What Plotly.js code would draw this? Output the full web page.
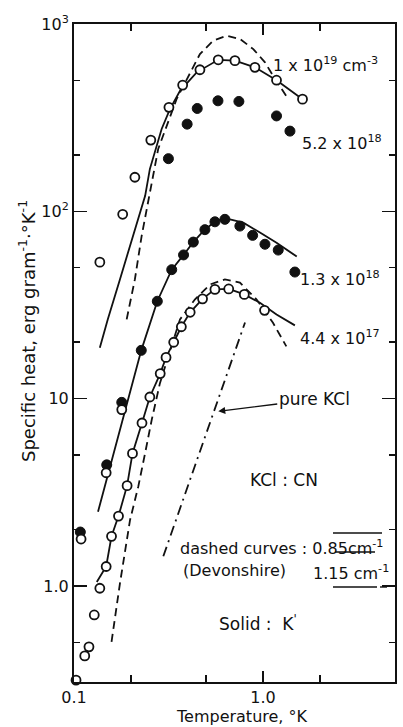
<!DOCTYPE html>
<html>
<head>
<meta charset="utf-8">
<script src="https://cdn.plot.ly/plotly-3.0.1.min.js"></script>
<style>html,body{margin:0;padding:0;background:#fff;}#chart{width:403px;height:727px;}</style>
</head>
<body>
<div id="chart"></div>
<script>
// ---- Data (temperature in K, specific heat in erg g^-1 K^-1) ----
// 1 x 10^19 cm^-3 : open circles, solid (K') fit and dashed (Devonshire) curve
const tA_pts = [0.0976, 0.137, 0.181, 0.210, 0.255, 0.318, 0.376, 0.464, 0.580, 0.711, 0.907, 1.18, 1.62];
const cA_pts = [26.8, 53.5, 96.4, 152, 240, 359, 472, 570, 644, 637, 587, 501, 397];
const tA_solid = [0.137, 0.151, 0.175, 0.206, 0.238, 0.252, 0.291, 0.322, 0.364, 0.446, 0.580, 0.711, 0.907, 1.18, 1.62];
const cA_solid = [18.7, 26.5, 43.3, 73.8, 121, 168, 275, 351, 440, 552, 644, 637, 587, 501, 397];
const tA_dash = [0.190, 0.210, 0.228, 0.252, 0.279, 0.349, 0.411, 0.464, 0.545, 0.643, 0.755, 0.889, 1.025, 1.16, 1.34];
const cA_dash = [26.5, 43.3, 73.8, 126, 215, 397, 552, 691, 815, 865, 832, 735, 624, 508, 407];

// 5.2 x 10^18 : filled circles
const tB_pts = [0.316, 0.397, 0.449, 0.578, 0.746, 1.18, 1.39];
const cB_pts = [191, 292, 354, 389, 386, 323, 268];

// 1.3 x 10^18 : filled circles (+ a second run, open) and solid curve
const tC_pts = [0.108, 0.149, 0.179, 0.227, 0.276, 0.329, 0.380, 0.428, 0.493, 0.557, 0.629, 0.755, 0.882, 1.025, 1.205, 1.476];
const cC_pts = [1.94, 4.43, 9.55, 18.1, 33.1, 48.8, 58.5, 68.5, 79.8, 87.9, 90.6, 83.4, 74.4, 66.7, 62.1, 47.4];
const tC_open = [0.109, 0.148, 0.179];
const cC_open = [1.78, 4.02, 8.74];
const tC_solid = [0.134, 0.206, 0.227, 0.276, 0.329, 0.380, 0.428, 0.493, 0.557, 0.629, 0.787, 0.964, 1.18, 1.51];
const cC_solid = [2.49, 12.6, 18.1, 33.1, 48.8, 58.5, 68.5, 80, 88, 92, 87, 77, 68, 57.3];

// 4.4 x 10^17 : open circles, solid and dashed curves
const tD_pts = [0.1025, 0.114, 0.120, 0.128, 0.137, 0.148, 0.158, 0.172, 0.191, 0.204, 0.229, 0.252, 0.286, 0.307, 0.337, 0.370, 0.412, 0.479, 0.557, 0.659, 0.797, 1.02];
const cD_pts = [0.314, 0.423, 0.473, 0.700, 0.972, 1.27, 1.84, 2.36, 3.43, 5.10, 7.41, 10.2, 13.6, 16.6, 20.0, 24.2, 28.9, 34.1, 38.3, 38.5, 36.0, 29.6];
const tD_solid = [0.132, 0.148, 0.158, 0.172, 0.191, 0.204, 0.229, 0.252, 0.286, 0.307, 0.337, 0.370, 0.412, 0.479, 0.557, 0.659, 0.797, 0.964, 1.18, 1.476];
const cD_solid = [1.05, 1.27, 1.84, 2.36, 3.43, 5.10, 7.41, 10.2, 13.6, 16.6, 20.0, 24.2, 28.9, 34.1, 38.3, 38.5, 36.0, 32.5, 28.1, 24.6];
const tD_dash = [0.158, 0.175, 0.198, 0.219, 0.238, 0.258, 0.285, 0.364, 0.436, 0.525, 0.629, 0.755, 0.926, 1.13, 1.33];
const cD_dash = [0.503, 1.03, 2.25, 3.40, 5.13, 7.73, 12.1, 26.5, 33.8, 40.7, 43.3, 41.6, 33.8, 25.4, 19.0];

// pure KCl (dash-dot)
const tPure = [0.297, 0.804];
const cPure = [1.44, 25.5];

// Axis ticks
const xTickVals = [0.1, 1, 5];
const xTickText = ["0.1", "1.0", "5.0"];
const xMinorVals = [0.2, 0.5, 2];
const yTickVals = [1, 10, 100, 1000];
const yTickText = ["1.0", "10", "10<sup>2</sup>", "10<sup>3</sup>"];
const yMinorVals = [0.5, 2, 5, 20, 50, 200, 500];

// ---- Styles ----
const K = "#111";
const FONT = "DejaVu Sans, Verdana, sans-serif";
const solid = {color: K, width: 1.8};
const dashed = {color: K, width: 1.8, dash: "8px,5px"};
const dashdot = {color: K, width: 1.8, dash: "10px,5px,2px,5px"};
const openM = {symbol: "circle", size: 9, color: "#fff", line: {color: K, width: 1.8}};
const fillM = {symbol: "circle", size: 10, color: K, line: {color: K, width: 1}};

const lineTr = (x, y, line) => ({x, y, mode: "lines", line, hoverinfo: "skip", showlegend: false});
const ptTr = (x, y, marker) => ({x, y, mode: "markers", marker, cliponaxis: false, hoverinfo: "skip", showlegend: false});

const traces = [
  lineTr(tA_solid, cA_solid, solid),
  lineTr(tA_dash, cA_dash, dashed),
  lineTr(tC_solid, cC_solid, solid),
  lineTr(tD_solid, cD_solid, solid),
  lineTr(tD_dash, cD_dash, dashed),
  lineTr(tPure, cPure, dashdot),
  ptTr(tA_pts, cA_pts, openM),
  ptTr(tB_pts, cB_pts, fillM),
  ptTr(tC_pts, cC_pts, fillM),
  ptTr(tC_open, cC_open, openM),
  ptTr(tD_pts, cD_pts, openM)
];

// pixel -> paper helpers for text placement (plot area 74..395 x 24..682)
const PX = x => (x - 74) / 321;
const PY = y => (682 - y) / 658;
const txt = (text, x, y, anchor, size) => ({
  text, xref: "paper", yref: "paper", x: PX(x), y: PY(y), xanchor: anchor || "left", yanchor: "middle",
  showarrow: false, font: {family: FONT, size: size || 15, color: K}
});

const annotations = [
  txt("1 x 10<sup>19</sup> cm<sup>-3</sup>", 271, 64, "left", 16),
  txt("5.2 x 10<sup>18</sup>", 300, 142, "left", 16),
  txt("1.3 x 10<sup>18</sup>", 298, 278, "left", 16),
  txt("4.4 x 10<sup>17</sup>", 298, 337, "left", 16),
  txt("KCl : CN", 284, 480, "center", 17),
  txt("dashed curves : 0.85cm<sup>-1</sup>", 178, 547, "left", 16),
  txt("(Devonshire)", 181, 570, "left", 16),
  txt("1.15 cm<sup>-1</sup>", 311, 572, "left", 16),
  txt("Solid :  K<sup>'</sup>", 217, 623, "left", 17),
  {text: "pure KCl", x: Math.log10(0.58), y: Math.log10(8.55), xref: "x", yref: "y",
   showarrow: true, arrowhead: 2, arrowsize: 1, arrowwidth: 1.4, arrowcolor: K,
   ax: 96, ay: -12, font: {family: FONT, size: 17, color: K}},
  {text: "Specific heat, erg gram<sup>-1</sup>·°K<sup>-1</sup>", xref: "paper", yref: "paper",
   x: PX(27), y: PY(331), textangle: -90, showarrow: false, xanchor: "center", yanchor: "middle",
   font: {family: FONT, size: 18, color: K}},
  {text: "Temperature, °K", xref: "paper", yref: "paper", x: PX(242), y: PY(716),
   showarrow: false, xanchor: "center", yanchor: "middle", font: {family: FONT, size: 16, color: K}}
];

const seg = (x0, x1, y, dash) => ({type: "line", xref: "paper", yref: "paper",
  x0: PX(x0), x1: PX(x1), y0: PY(y), y1: PY(y), line: {color: K, width: 1.4, dash: dash || "solid"}});
const shapes = [
  seg(333, 382, 533),
  seg(335, 375, 552),
  seg(333, 377, 587),
  seg(380, 387, 587)
];

const layout = {
  width: 403, height: 727,
  margin: {l: 74, r: 8, t: 24, b: 45, pad: 0},
  paper_bgcolor: "#fff", plot_bgcolor: "#fff",
  font: {family: FONT, size: 16, color: K},
  showlegend: false,
  xaxis: {
    type: "log", range: [-1, Math.log10(5)],
    tickvals: xTickVals, ticktext: xTickText, ticks: "inside", ticklen: 11, tickwidth: 1.5, tickcolor: K,
    minor: {tickvals: xMinorVals, ticks: "inside", ticklen: 7, tickwidth: 1.5, tickcolor: K, showgrid: false},
    showline: true, linecolor: K, linewidth: 2, mirror: "ticks", showgrid: false, zeroline: false,
    tickfont: {family: FONT, size: 16, color: K}
  },
  yaxis: {
    type: "log", range: [Math.log10(0.307), 3],
    tickvals: yTickVals, ticktext: yTickText, ticks: "inside", ticklen: 13, tickwidth: 1.5, tickcolor: K,
    minor: {tickvals: yMinorVals, ticks: "inside", ticklen: 6, tickwidth: 1.5, tickcolor: K, showgrid: false},
    showline: true, linecolor: K, linewidth: 2, mirror: "ticks", showgrid: false, zeroline: false,
    tickfont: {family: FONT, size: 16, color: K}
  },
  annotations, shapes
};

Plotly.newPlot("chart", traces, layout, {staticPlot: true, displayModeBar: false});
</script>
</body>
</html>
